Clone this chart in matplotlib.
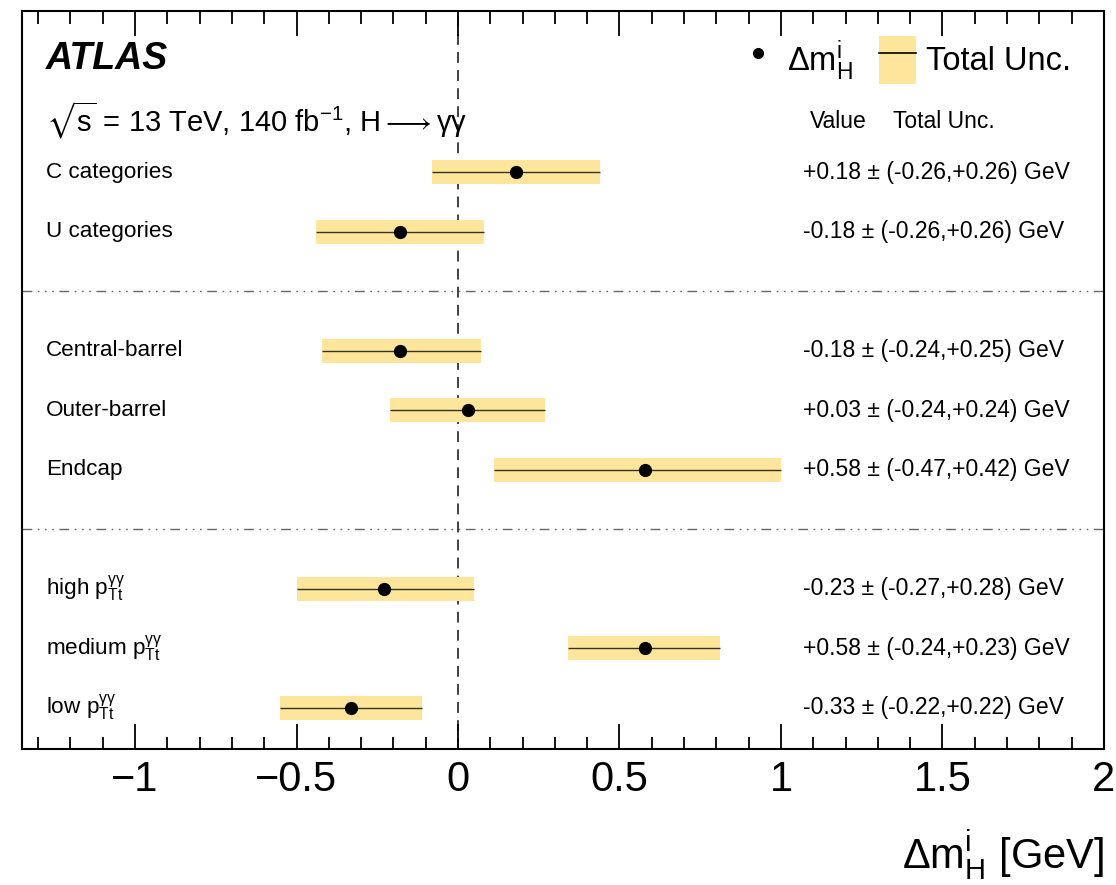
import matplotlib
matplotlib.use("Agg")
import matplotlib.pyplot as plt
from matplotlib.lines import Line2D
from matplotlib.patches import Patch

plt.rcParams["font.family"] = ["Liberation Sans", "DejaVu Sans"]
plt.rcParams["mathtext.fontset"] = "custom"
plt.rcParams["mathtext.rm"] = "Liberation Sans"
plt.rcParams["mathtext.it"] = "Liberation Sans:italic"
plt.rcParams["mathtext.bf"] = "Liberation Sans:bold"
plt.rcParams["mathtext.fallback"] = "stixsans"

# data, top to bottom
labels = ["C categories", "U categories",
          "Central-barrel", "Outer-barrel", "Endcap",
          r"high $\mathrm{p}_{\mathrm{Tt}}^{\mathrm{γγ}}$",
          r"medium $\mathrm{p}_{\mathrm{Tt}}^{\mathrm{γγ}}$",
          r"low $\mathrm{p}_{\mathrm{Tt}}^{\mathrm{γγ}}$"]
values = [0.18, -0.18, -0.18, 0.03, 0.58, -0.23, 0.58, -0.33]
err_lo = [0.26, 0.26, 0.24, 0.24, 0.47, 0.27, 0.24, 0.22]
err_hi = [0.26, 0.26, 0.25, 0.24, 0.42, 0.28, 0.23, 0.22]
rows = [9, 8, 6, 5, 4, 2, 1, 0]   # row positions (gaps for separators)
separators = [7, 3]

band_col = "#fee59c"

fig = plt.figure(figsize=(11.16, 8.85), dpi=100)
ax = fig.add_axes([0.0197, 0.1537, 0.9695, 0.834])

for y, v, lo, hi in zip(rows, values, err_lo, err_hi):
    ax.barh(y, lo + hi, left=v - lo, height=0.4, color=band_col, linewidth=0, zorder=1)
    ax.hlines(y, v - lo, v + hi, color="#333322", linewidth=1.0, zorder=2)
ax.plot(values, rows, "o", color="black", markersize=8.5, zorder=3)

# text labels on the left and values on the right
for y, lab, v, lo, hi in zip(rows, labels, values, err_lo, err_hi):
    ax.text(-1.275, y, lab, fontsize=16.2, va="center", ha="left")
    ax.text(1.068, y, "%+.2f ± (-%.2f,+%.2f) GeV" % (v, lo, hi),
            fontsize=16.5, va="center", ha="left")

ax.text(1.09, 9.85, "Value", fontsize=16.5, va="center", ha="left")
ax.text(1.347, 9.85, "Total Unc.", fontsize=16.5, va="center", ha="left")

ax.text(-1.275, 10.9, "ATLAS", fontsize=27, fontweight="bold", fontstyle="italic",
        va="center", ha="left")
ax.text(-1.275, 9.88, r"$\sqrt{\mathrm{s}}$ = 13 TeV, 140 fb$^{\mathrm{-1}}$, H$\longrightarrow$γγ",
        fontsize=21, va="center", ha="left")

# separators and reference line
for s in separators:
    ax.axhline(s, color="#666666", linewidth=1.0,
               linestyle=(0, (7, 4, 1.2, 4, 1.2, 4, 1.2, 4)), zorder=0)
ax.axvline(0, color="#333333", linewidth=1.3, linestyle=(0, (6, 4)), zorder=0)

# legend
h_dot = Line2D([], [], marker="o", color="black", linestyle="none", markersize=7)
h_unc = (Patch(facecolor=band_col, edgecolor="none"),
         Line2D([], [], color="black", linewidth=1.2))
leg = ax.legend([h_dot, h_unc], [r"$\Delta\mathrm{m}_{\mathrm{H}}^{\mathrm{i}}$", "Total Unc."],
                loc="upper right", bbox_to_anchor=(0.997, 1.006), ncol=2, frameon=False,
                fontsize=23.5, handlelength=1.15, handleheight=1.9, handletextpad=0.3,
                columnspacing=0.8)

ax.set_xlim(-1.35, 2.0)
ax.set_ylim(-0.69, 11.71)
ax.set_xticks([-1, -0.5, 0, 0.5, 1, 1.5, 2])
ax.set_xticklabels(["−1", "−0.5", "0", "0.5", "1", "1.5", "2"])
ax.set_xticks([x / 10 for x in range(-13, 20) if x % 5 != 0], minor=True)
ax.set_yticks([])
ax.tick_params(axis="x", which="both", direction="in", top=True, bottom=True,
               labelsize=30, pad=8, width=1.3)
ax.tick_params(axis="x", which="major", length=18)
ax.tick_params(axis="x", which="minor", length=9)
for sp in ax.spines.values():
    sp.set_linewidth(1.5)

ax.set_xlabel(r"$\Delta\mathrm{m}_{\mathrm{H}}^{\mathrm{i}}$ [GeV]", fontsize=30, loc="right",
              labelpad=20)

plt.savefig("out.png", dpi=100)
